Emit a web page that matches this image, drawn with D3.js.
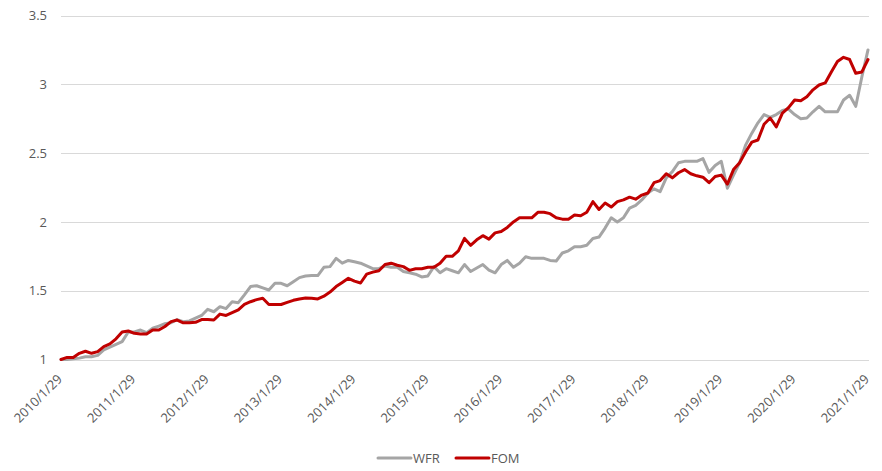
<!DOCTYPE html>
<html>
<head>
<meta charset="utf-8">
<script src="https://cdn.jsdelivr.net/npm/d3@7"></script>
<style>
  html, body { margin: 0; padding: 0; background: #fff; }
  svg { display: block; font-family: "Open Sans", "Noto Sans", sans-serif; }
</style>
</head>
<body>
<svg id="chart" width="882" height="471"></svg>
<script>
const tickLabels = ["2010/1/29","2011/1/29","2012/1/29","2013/1/29","2014/1/29","2015/1/29",
  "2016/1/29","2017/1/29","2018/1/29","2019/1/29","2020/1/29","2021/1/29"];
const yTicks = [1, 1.5, 2, 2.5, 3, 3.5];
const seriesNames = ["WFR", "FOM"];

const wfr = [1.00,1.00,1.005,1.01,1.02,1.02,1.03,1.07,1.09,1.11,1.13,1.20,
  1.20,1.214,1.195,1.227,1.243,1.26,1.267,1.29,1.275,1.28,1.30,1.32,
  1.365,1.347,1.384,1.37,1.42,1.413,1.47,1.53,1.536,1.52,1.505,1.554,
  1.554,1.536,1.565,1.595,1.607,1.61,1.61,1.67,1.675,1.735,1.70,1.72,
  1.71,1.70,1.68,1.66,1.66,1.68,1.67,1.67,1.64,1.63,1.62,1.60,
  1.607,1.675,1.63,1.66,1.645,1.63,1.69,1.64,1.665,1.69,1.65,1.63,
  1.69,1.72,1.67,1.70,1.747,1.735,1.735,1.735,1.72,1.716,1.774,1.79,
  1.82,1.82,1.83,1.88,1.89,1.955,2.03,2.00,2.03,2.10,2.12,2.16,
  2.21,2.24,2.22,2.32,2.365,2.43,2.44,2.44,2.44,2.46,2.36,2.41,
  2.44,2.245,2.34,2.43,2.56,2.645,2.72,2.78,2.76,2.78,2.81,2.82,
  2.78,2.75,2.755,2.80,2.84,2.80,2.80,2.80,2.886,2.92,2.84,3.055,
  3.25];

const fom = [1.00,1.015,1.015,1.045,1.06,1.045,1.057,1.093,1.113,1.15,1.20,1.207,
  1.19,1.185,1.185,1.214,1.214,1.24,1.275,1.287,1.267,1.267,1.27,1.29,
  1.29,1.287,1.33,1.32,1.34,1.36,1.40,1.42,1.435,1.445,1.40,1.40,
  1.40,1.415,1.43,1.44,1.447,1.445,1.44,1.46,1.49,1.53,1.56,1.59,
  1.57,1.556,1.62,1.635,1.645,1.69,1.70,1.685,1.675,1.648,1.66,1.66,
  1.67,1.67,1.70,1.75,1.75,1.79,1.88,1.83,1.87,1.90,1.875,1.92,
  1.93,1.96,2.00,2.03,2.03,2.03,2.07,2.07,2.06,2.03,2.02,2.02,
  2.05,2.045,2.07,2.147,2.09,2.137,2.108,2.147,2.16,2.18,2.165,2.195,
  2.21,2.285,2.30,2.35,2.32,2.357,2.38,2.35,2.335,2.325,2.285,2.33,
  2.34,2.275,2.38,2.43,2.51,2.58,2.595,2.71,2.755,2.69,2.79,2.83,
  2.886,2.88,2.91,2.96,2.995,3.01,3.09,3.165,3.196,3.18,3.08,3.09,
  3.18];

const colors = ["#A5A5A5", "#C00000"];

const svg = d3.select("#chart");
const plotLeft = 61, plotRight = 868, plotTop = 15.5, plotBottom = 359.5;
const nPts = wfr.length;

const x = d3.scaleLinear().domain([0, nPts - 1]).range([plotLeft, plotRight]);
const y = d3.scaleLinear().domain([1, 3.5]).range([plotBottom, plotTop]);

// gridlines
svg.append("g")
  .selectAll("line").data(yTicks).join("line")
  .attr("x1", plotLeft).attr("x2", plotRight + 1)
  .attr("y1", d => Math.round(y(d)) + 0.5).attr("y2", d => Math.round(y(d)) + 0.5)
  .attr("stroke", "#D9D9D9").attr("stroke-width", 1);

// y axis labels
const yAxis = d3.axisLeft(y).tickValues(yTicks).tickSize(0).tickPadding(0)
  .tickFormat(d => d3.format("")(d));
const yg = svg.append("g").attr("transform", `translate(${plotLeft - 14},0)`).call(yAxis);
yg.select(".domain").remove();
yg.selectAll("text").attr("fill", "#595959").style("font-size", "13px")
  .style("font-family", '"Open Sans", sans-serif');

// x axis labels
const tickIdx = tickLabels.map((_, i) => i * 12);
const xAxis = d3.axisBottom(x).tickValues(tickIdx).tickSize(0)
  .tickFormat((d, i) => tickLabels[i]);
const xg = svg.append("g").attr("transform", `translate(0,${plotBottom})`).call(xAxis);
xg.select(".domain").remove();
xg.selectAll("text")
  .attr("fill", "#595959").style("font-size", "13px")
  .style("font-family", '"Open Sans", sans-serif')
  .attr("text-anchor", "end")
  .attr("dy", null).attr("y", null)
  .attr("transform", "translate(-1,18) rotate(-45)")
  .attr("dominant-baseline", "middle");

// lines
const line = d3.line().x((d, i) => x(i)).y(d => y(d)).curve(d3.curveLinear);
[wfr, fom].forEach((s, k) => {
  svg.append("path").datum(s)
    .attr("d", line)
    .attr("fill", "none")
    .attr("stroke", colors[k])
    .attr("stroke-width", 3)
    .attr("stroke-linejoin", "round")
    .attr("stroke-linecap", "round");
});

// legend
const legendItems = [{name: seriesNames[0], x: 378}, {name: seriesNames[1], x: 456}];
const lg = svg.append("g");
legendItems.forEach((it, k) => {
  lg.append("line").attr("x1", it.x).attr("x2", it.x + 33)
    .attr("y1", 458).attr("y2", 458)
    .attr("stroke", colors[k]).attr("stroke-width", 3).attr("stroke-linecap", "round");
  lg.append("text").attr("x", it.x + 35).attr("y", 458)
    .attr("dominant-baseline", "central")
    .attr("fill", "#595959").style("font-size", "13px")
    .text(it.name);
});
</script>
</body>
</html>
